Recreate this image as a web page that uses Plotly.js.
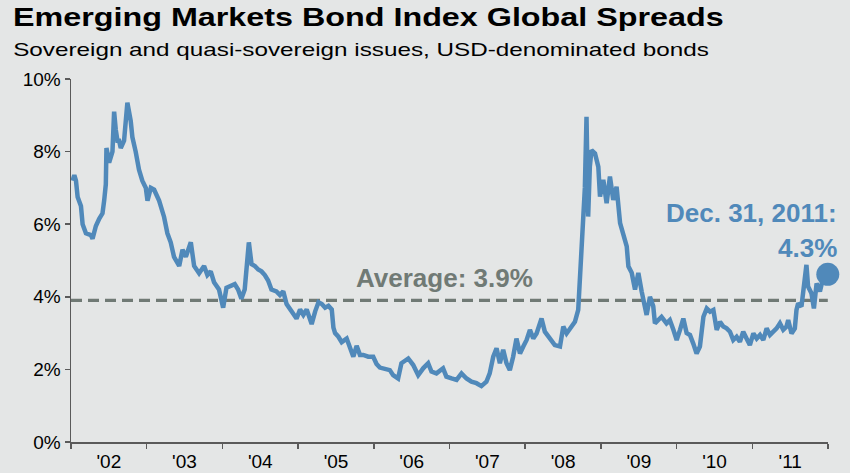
<!DOCTYPE html>
<html>
<head>
<meta charset="utf-8">
<script src="https://cdn.plot.ly/plotly-3.0.1.min.js"></script>
<style>
html,body{margin:0;padding:0;background:#e4e6e6;}
#chart{width:850px;height:473px;}
</style>
</head>
<body>
<div id="chart"></div>
<script>
// EMBI Global spreads (%)
const dates = [
'2002-01-09','2002-01-17','2002-01-25','2002-02-02','2002-02-18','2002-02-26','2002-03-14','2002-04-07','2002-04-15','2002-05-01',
'2002-05-17','2002-06-02','2002-06-10','2002-06-18','2002-06-21','2002-07-04','2002-07-20','2002-07-28','2002-08-05','2002-08-13',
'2002-08-21','2002-08-29','2002-09-14','2002-09-22','2002-09-30','2002-10-16','2002-10-24','2002-11-09','2002-11-25','2002-12-11',
'2002-12-28','2003-01-05','2003-01-21','2003-02-06','2003-03-02','2003-03-26','2003-04-11','2003-04-27','2003-05-13','2003-06-07',
'2003-06-23','2003-07-09','2003-08-02','2003-08-18','2003-09-11','2003-10-05','2003-10-21','2003-11-06','2003-11-22','2003-12-16',
'2004-01-02','2004-01-05','2004-01-21','2004-02-14','2004-03-01','2004-03-17','2004-04-02','2004-04-18','2004-04-26','2004-05-08',
'2004-05-21','2004-06-06','2004-06-22','2004-07-08','2004-07-24','2004-08-09','2004-08-25','2004-09-18','2004-10-05','2004-10-21',
'2004-11-06','2004-11-30','2004-12-24','2005-01-10','2005-01-26','2005-02-11','2005-03-07','2005-03-24','2005-04-09','2005-04-25',
'2005-05-11','2005-05-27','2005-06-12','2005-06-20','2005-06-28','2005-07-14','2005-07-30','2005-08-23','2005-09-08','2005-09-24',
'2005-10-10','2005-10-26','2005-11-11','2005-12-05','2005-12-29','2006-01-14','2006-01-30','2006-02-23','2006-03-19','2006-04-04',
'2006-04-28','2006-05-14','2006-06-16','2006-07-10','2006-08-03','2006-08-27','2006-09-20','2006-10-06','2006-10-30','2006-12-01',
'2006-12-17','2007-01-11','2007-02-04','2007-02-28','2007-03-24','2007-04-17','2007-05-11','2007-06-04','2007-06-28','2007-07-14',
'2007-07-31','2007-08-16','2007-09-01','2007-09-17','2007-10-03','2007-10-19','2007-11-04','2007-11-20','2007-12-07','2007-12-23',
'2008-01-08','2008-01-24','2008-02-09','2008-02-25','2008-03-20','2008-04-05','2008-04-29','2008-05-23','2008-06-17','2008-07-03',
'2008-07-19','2008-08-12','2008-08-28','2008-09-13','2008-09-21','2008-09-29','2008-10-07','2008-10-15','2008-10-23','2008-10-31',
'2008-11-08','2008-11-16','2008-12-03','2008-12-19','2008-12-27','2009-01-12','2009-01-28','2009-02-13','2009-03-01','2009-03-17',
'2009-04-03','2009-04-19','2009-05-05','2009-05-13','2009-05-29','2009-06-14','2009-06-30','2009-07-16','2009-08-01','2009-08-09',
'2009-08-25','2009-09-10','2009-09-18','2009-10-04','2009-10-20','2009-11-13','2009-11-29','2009-12-16','2010-01-01','2010-01-17',
'2010-02-02','2010-02-18','2010-03-06','2010-03-22','2010-04-07','2010-04-23','2010-05-10','2010-05-26','2010-06-11','2010-06-27',
'2010-07-13','2010-07-29','2010-08-14','2010-08-30','2010-09-15','2010-10-01','2010-10-17','2010-11-02','2010-11-18','2010-12-04',
'2010-12-20','2011-01-06','2011-01-22','2011-02-07','2011-02-23','2011-03-11','2011-03-27','2011-04-12','2011-04-28','2011-05-14',
'2011-05-30','2011-06-15','2011-06-23','2011-07-09','2011-07-25','2011-08-02','2011-08-10','2011-08-26','2011-09-11','2011-09-19',
'2011-09-27','2011-10-13','2011-10-25','2011-11-07','2011-11-23','2011-12-06','2011-12-17','2011-12-30'
];
const spreads = [
7.2,7.35,7.2,6.75,6.5,6.0,5.75,5.7,5.6,5.95,
6.15,6.3,6.65,7.1,8.1,7.7,8.0,9.1,8.6,8.3,
8.3,8.1,8.3,9.0,9.35,8.85,8.4,8.0,7.5,7.2,
7.0,6.65,7.0,6.95,6.65,6.2,5.75,5.5,5.1,4.85,
5.3,5.1,5.5,4.85,4.65,4.85,4.6,4.7,4.4,4.2,
3.75,3.7,4.25,4.3,4.35,4.2,3.95,4.2,4.75,5.5,
4.9,4.85,4.75,4.7,4.6,4.45,4.2,4.15,4.05,4.15,
3.8,3.6,3.4,3.65,3.5,3.65,3.25,3.6,3.85,3.8,
3.7,3.75,3.65,3.15,3.0,2.9,2.75,2.85,2.6,2.35,
2.65,2.4,2.4,2.35,2.35,2.15,2.05,2.03,1.98,1.84,
1.75,2.17,2.3,2.12,1.84,2.03,2.17,1.94,1.89,2.03,
1.8,1.75,1.71,1.89,1.75,1.66,1.62,1.54,1.66,1.89,
2.35,2.58,2.17,2.54,2.17,1.98,2.35,2.85,2.44,2.63,
2.81,3.09,2.85,2.99,3.4,3.04,2.85,2.67,2.63,3.18,
2.99,3.18,3.31,3.64,4.55,5.47,6.67,7.0,8.96,6.21,
7.58,8.04,7.95,7.58,6.76,7.22,6.58,7.31,6.67,7.03,
6.03,5.75,5.39,4.84,4.66,4.2,4.66,4.15,3.74,3.5,
4.0,3.74,3.27,3.36,3.45,3.27,3.36,3.09,2.81,3.09,
3.4,3.0,2.95,2.71,2.44,2.63,3.45,3.68,3.59,3.64,
3.09,3.31,3.18,3.13,3.04,2.81,2.9,2.76,3.04,2.85,
2.67,2.99,2.85,2.95,2.81,3.13,2.95,3.04,3.13,3.27,
3.09,3.18,3.36,2.99,3.13,3.64,3.82,3.73,4.37,4.88,
4.28,4.1,3.68,4.37,4.15,4.46,4.5,4.45
];
const averageValue = 3.9;
const averageRange = ['2002-01-01','2011-12-31'];
const lastDate = ['2011-12-31'];
const lastMarker = [4.62];
const yTicks = [0,2,4,6,8,10];
const yTickLabels = ['0%','2%','4%','6%','8%','10%'];

const blue = 'rgb(80,137,186)';
const gray = 'rgb(112,122,117)';
const font = '"Liberation Sans", Arial, sans-serif';

const traces = [
  {x: averageRange, y: [averageValue, averageValue], type:'scatter', mode:'lines',
   line:{color:gray, width:3.2, dash:'11px,6px'}, hoverinfo:'skip', cliponaxis:false},
  {x: dates, y: spreads, type:'scatter', mode:'lines',
   line:{color:blue, width:4.5}, hoverinfo:'skip'},
  {x: lastDate, y: lastMarker, type:'scatter', mode:'markers',
   marker:{color:blue, size:23}, cliponaxis:false, hoverinfo:'skip'}
];

const layout = {
  width:850, height:473,
  paper_bgcolor:'#e4e6e6', plot_bgcolor:'#e4e6e6',
  margin:{l:71, r:22, t:79, b:31},
  showlegend:false,
  font:{family:font, color:'#000'},
  xaxis:{type:'date', range:['2002-01-01','2012-01-01'],
    tick0:'2002-01-01', dtick:'M12', tickformat:"'%y", ticklabelmode:'period',
    ticks:'outside', ticklen:5, tickcolor:'#5a5a5a', tickwidth:1.5, ticklabelstandoff:-3,
    showline:true, linecolor:'#5a5a5a', linewidth:1.5,
    showgrid:false, zeroline:false, tickfont:{size:19, family:font, color:'#000'}},
  yaxis:{range:[0,10], tickvals:yTicks, ticktext:yTickLabels,
    ticks:'outside', ticklen:5, tickcolor:'#5a5a5a', tickwidth:1.5,
    showline:true, linecolor:'#5a5a5a', linewidth:1.5,
    showgrid:false, zeroline:false, tickfont:{size:19, family:font, color:'#000'}},
  title:{text:'<b>Emerging Markets Bond Index Global Spreads</b>',
    font:{family:font, size:25, color:'#000'},
    x:13/850, xref:'container', xanchor:'left', y:1-9/473, yref:'container', yanchor:'top'},
  annotations:[
    {text:'Sovereign and quasi-sovereign issues, USD-denominated bonds',
     xref:'paper', yref:'paper', x:(11-71)/757, y:(442-37)/363, xanchor:'left', yanchor:'top',
     showarrow:false, font:{family:font, size:19, color:'#000'}},
    {text:'<b>Average: 3.9%</b>', xref:'x', yref:'y', x:'2006-12-10', y:averageValue,
     yshift:22, showarrow:false, xanchor:'center', font:{family:font, size:26, color:gray}},
    {text:'<b>Dec. 31, 2011:</b>', xref:'paper', yref:'y', x:1+11/757, y:6.32,
     xanchor:'right', yanchor:'middle', showarrow:false, font:{family:font, size:26, color:blue}},
    {text:'<b>4.3%</b>', xref:'paper', yref:'y', x:1+11/757, y:5.35,
     xanchor:'right', yanchor:'middle', showarrow:false, font:{family:font, size:26, color:blue}}
  ]
};

// horizontally scale a text element about its left edge to a target width
function fitWidth(el, targetWidth) {
  if (!el) return;
  const bb = el.getBBox();
  const s = targetWidth / bb.width;
  const prev = el.getAttribute('transform') || '';
  el.setAttribute('transform', (prev + ` translate(${bb.x * (1 - s)},0) scale(${s},1)`).trim());
}

Plotly.newPlot('chart', traces, layout, {staticPlot:true, displayModeBar:false}).then(gd => {
  fitWidth(gd.querySelector('.gtitle'), 711);
  const ann = gd.querySelectorAll('.annotation-text');
  fitWidth(ann[0], 696);
});
</script>
</body>
</html>
